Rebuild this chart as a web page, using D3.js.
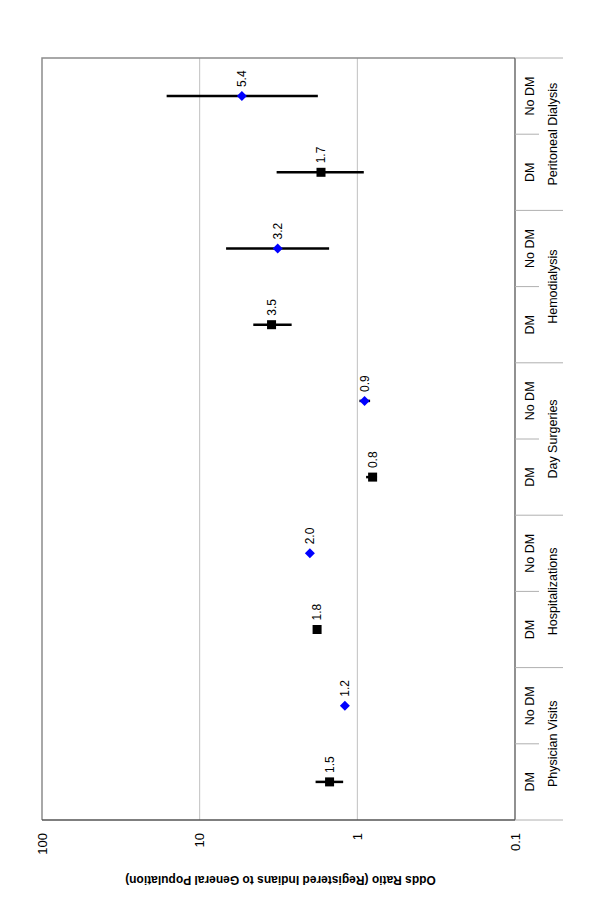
<!DOCTYPE html>
<html>
<head>
<meta charset="utf-8">
<script src="https://cdn.jsdelivr.net/npm/d3@7"></script>
<style>
  body { margin: 0; background: #fff; }
  svg { display: block; font-family: 'Liberation Sans', Arial, sans-serif; }
</style>
</head>
<body>
<div id="chart"></div>
<script>
const groups = ['Physician Visits', 'Hospitalizations', 'Day Surgeries', 'Hemodialysis', 'Peritoneal Dialysis']
const subgroups = ['DM', 'No DM']
const oddsRatio = [1.5, 1.2, 1.8, 2.0, 0.8, 0.9, 3.5, 3.2, 1.7, 5.4]
const ciLow = [1.23, 1.16, 1.70, 1.93, 0.75, 0.83, 2.61, 1.51, 0.91, 1.78]
const ciHigh = [1.84, 1.25, 1.90, 2.07, 0.88, 0.97, 4.57, 6.8, 3.25, 16.2]
const valueTicks = [100, 10, 1, 0.1]

const width = 600
const height = 905
const plot = { left: 42, right: 515, top: 58, bottom: 820 }

const rows = []
groups.forEach((g, gi) => {
  subgroups.forEach((s, si) => {
    const i = gi * subgroups.length + si
    rows.push({ id: i, group: g, sub: s, v: oddsRatio[i], lo: ciLow[i], hi: ciHigh[i] })
  })
})

const svg = d3.select('#chart').append('svg')
  .attr('width', width)
  .attr('height', height)

const x = d3.scaleLog().domain([100, 0.1]).range([plot.left, plot.right])
const y = d3.scaleBand().domain(rows.map(d => d.id)).range([plot.bottom, plot.top])
const yg = d3.scaleBand().domain(groups).range([plot.bottom, plot.top])

// grid lines
svg.append('g')
  .selectAll('line')
  .data(valueTicks.slice(1, -1))
  .enter().append('line')
  .attr('x1', d => x(d)).attr('x2', d => x(d))
  .attr('y1', plot.top).attr('y2', plot.bottom)
  .style('stroke', '#c0c0c0')
  .style('stroke-width', 1)

// plot frame (left + top)
svg.append('path')
  .attr('d', `M${plot.left},${plot.bottom} V${plot.top} H${plot.right}`)
  .style('fill', 'none')
  .style('stroke', '#8c8c8c')
  .style('stroke-width', 1.5)

// value axis line
svg.append('line')
  .attr('x1', plot.left).attr('x2', plot.right)
  .attr('y1', plot.bottom).attr('y2', plot.bottom)
  .style('stroke', '#555')
  .style('stroke-width', 1.3)

// value tick labels
svg.append('g')
  .selectAll('text')
  .data(valueTicks)
  .enter().append('text')
  .attr('transform', d => `translate(${x(d)},${plot.bottom + 13}) rotate(-90)`)
  .attr('text-anchor', 'end')
  .attr('dy', '0.35em')
  .style('font-size', '13px')
  .text(d => d)

// axis title (upside down)
svg.append('text')
  .attr('transform', `translate(${(plot.left + plot.right) / 2 + 2},${plot.bottom + 60}) rotate(180)`)
  .attr('text-anchor', 'middle')
  .attr('dy', '0.35em')
  .style('font-size', '12px')
  .style('font-weight', 'bold')
  .text('Odds Ratio (Registered Indians to General Population)')

// category axis
const cat = svg.append('g')
cat.append('line')
  .attr('x1', plot.right).attr('x2', plot.right)
  .attr('y1', plot.top).attr('y2', plot.bottom)
  .style('stroke', '#555')
  .style('stroke-width', 1.3)

const groupEdges = [plot.bottom].concat(groups.map(g => yg(g)))
cat.selectAll('line.gtick')
  .data(groupEdges)
  .enter().append('line')
  .classed('gtick', true)
  .attr('x1', plot.right).attr('x2', plot.right + 48)
  .attr('y1', d => d).attr('y2', d => d)
  .style('stroke', '#b0b0b0')

cat.selectAll('line.stick')
  .data(groups)
  .enter().append('line')
  .classed('stick', true)
  .attr('x1', plot.right).attr('x2', plot.right + 24)
  .attr('y1', d => yg(d) + yg.bandwidth() / 2).attr('y2', d => yg(d) + yg.bandwidth() / 2)
  .style('stroke', '#b0b0b0')

cat.selectAll('text.sub')
  .data(rows)
  .enter().append('text')
  .classed('sub', true)
  .attr('transform', d => `translate(${plot.right + 15},${y(d.id) + y.bandwidth() / 2}) rotate(-90)`)
  .attr('text-anchor', 'middle')
  .attr('dy', '0.35em')
  .style('font-size', '12.5px')
  .text(d => d.sub)

cat.selectAll('text.grp')
  .data(groups)
  .enter().append('text')
  .classed('grp', true)
  .attr('transform', d => `translate(${plot.right + 38},${yg(d) + yg.bandwidth() / 2}) rotate(-90)`)
  .attr('text-anchor', 'middle')
  .attr('dy', '0.35em')
  .style('font-size', '12.5px')
  .text(d => d)

// error bars + markers
const pts = svg.append('g').selectAll('g.pt')
  .data(rows)
  .enter().append('g')
  .classed('pt', true)
  .attr('transform', d => `translate(0,${y(d.id) + y.bandwidth() / 2})`)

pts.append('line')
  .attr('x1', d => x(d.hi)).attr('x2', d => x(d.lo))
  .attr('y1', 0).attr('y2', 0)
  .style('stroke', '#000')
  .style('stroke-width', 2.5)

pts.filter(d => d.sub === 'DM').append('rect')
  .attr('x', d => x(d.v) - 4.5)
  .attr('y', -4.5)
  .attr('width', 9)
  .attr('height', 9)
  .style('fill', '#000')

pts.filter(d => d.sub !== 'DM').append('path')
  .attr('d', d => `M${x(d.v)},-5 L${x(d.v) + 5},0 L${x(d.v)},5 L${x(d.v) - 5},0 Z`)
  .style('fill', '#0000ff')

pts.append('text')
  .attr('transform', d => `translate(${x(d.v)},-9) rotate(-90)`)
  .attr('text-anchor', 'start')
  .attr('dy', '0.35em')
  .style('font-size', '12px')
  .text(d => d.v.toFixed(1))
</script>
</body>
</html>
